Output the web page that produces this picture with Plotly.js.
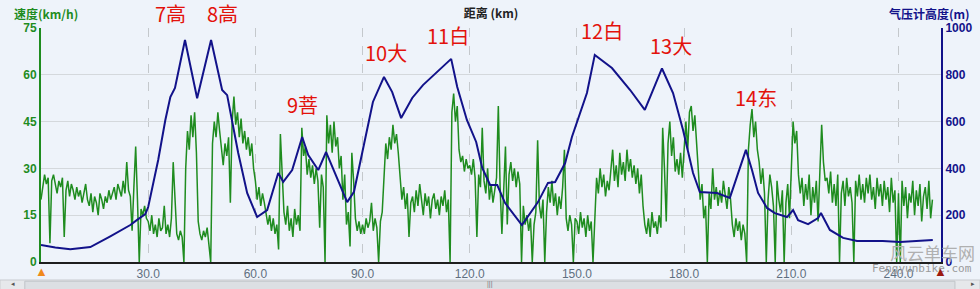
<!DOCTYPE html>
<html><head><meta charset="utf-8">
<script src="https://cdn.plot.ly/plotly-3.0.1.min.js"></script>
<style>html,body{margin:0;padding:0;background:#eef3fa;overflow:hidden;} #chart{width:980px;height:289px;}</style>
</head><body><div id="chart"></div>
<script>
// ---- data ----
const speedStepKm = 0.5;
const speedKmh = [
  20,24,28,25,27,6,26,28,25,22,26,24,27,8,23,26,21,25,23,20,
  24,21,23,19,22,25,20,18,22,16,21,19,15,22,20,17,21,19,23,20,
  22,24,20,25,23,21,26,22,32,23,21,10,24,37,20,0,17,15,18,14,
  13,10,15,9,12,8,14,10,11,18,9,12,8,14,32,22,9,7,10,8,
  0,30,42,36,47,40,48,35,13,9,7,10,8,11,6,0,38,45,40,48,
  42,36,31,38,34,40,19,45,53,44,48,40,46,38,42,36,40,34,38,30,
  26,20,24,18,22,19,16,12,15,10,14,9,12,4,41,30,16,12,18,10,
  14,8,17,12,15,10,43,34,37,28,33,27,31,25,30,26,11,28,24,0,
  47,38,44,35,45,37,40,30,34,20,28,12,16,5,35,26,14,10,13,9,
  12,9,14,11,13,19,10,14,11,0,13,16,28,38,33,40,36,44,38,41,
  35,28,20,24,17,22,8,19,21,16,23,18,25,20,15,22,18,21,14,20,
  22,17,20,15,21,18,23,16,20,0,48,54,45,50,36,32,34,29,33,30,
  31,28,33,27,8,28,24,43,26,22,30,20,25,19,23,27,50,24,9,22,
  37,12,28,32,26,30,24,29,25,0,18,12,15,10,14,0,12,16,39,18,
  14,20,0,16,24,19,26,18,22,15,21,17,24,36,14,10,15,12,0,14,
  13,9,16,11,14,8,15,10,13,0,12,27,22,30,24,28,21,26,23,29,
  36,26,31,24,35,28,32,26,36,29,33,27,31,25,30,22,28,18,12,9,
  14,8,16,11,13,9,15,11,43,30,13,38,45,34,40,29,33,28,35,27,
  38,45,36,48,50,42,47,37,28,20,25,14,18,0,22,17,30,20,24,18,
  23,19,26,21,17,24,20,12,8,14,10,13,7,12,9,0,36,44,49,40,
  45,36,32,25,30,22,0,20,28,24,18,0,26,20,16,23,0,19,25,14,
  30,45,38,42,28,22,27,18,25,20,28,15,24,19,26,13,29,44,32,26,
  27,22,29,19,25,18,28,0,22,26,18,27,21,24,19,0,26,21,28,20,
  25,19,27,22,28,20,24,17,27,21,25,18,26,20,24,16,27,19,23,0,
  22,0,26,18,24,14,22,19,26,15,23,18,25,13,21,24,17,26,14,20
];
const altitudeKm = [0,4,8.2,13.8,19.4,25.0,26.9,29.2,30.0,32.8,34.8,36.2,37.5,40.3,43.7,47.6,50.7,52.1,55.2,57.7,
  60.5,63.3,66.4,67.8,70.3,73.1,74.8,77.6,79.8,81.5,85.7,87.6,90.2,92.9,96.0,98.3,100.8,103.9,106.9,110.9,
  114.8,116.5,119.2,121.8,123.5,125.7,127.7,129.9,134.6,139.1,141.9,143.9,146.7,148.6,150.3,152.8,155.0,159.8,164.9,169.0,
  173.8,176.9,179.7,182.5,184.4,189.2,192.8,195.1,197.3,199.0,200.7,203.2,205.4,208.8,210.5,211.9,214.7,217.5,218.3,220.8,
  224.5,228.4,235.6,240.4,245.2,249.6];
const altitudeM = [73,62,55,64,110,158,180,205,235,436,607,705,744,949,700,949,735,713,466,295,
  192,222,380,342,393,534,457,393,470,406,256,300,491,684,791,726,615,701,756,812,
  868,748,607,513,402,329,329,252,158,256,338,342,423,534,607,722,885,829,735,650,
  827,722,564,380,299,295,274,380,479,393,295,231,209,192,222,179,162,188,209,137,
  103,90,90,85,90,94];
const distanceTicks = [30,60,90,120,150,180,210,240];
const distanceTickLabels = ['30.0','60.0','90.0','120.0','150.0','180.0','210.0','240.0'];
const speedTicks = [0,15,30,45,60,75];
const altitudeTicks = [0,200,400,600,800,1000];
const peakLabels = ['7高','8高','9菩','10大','11白','12白','13大','14东'];
const peakLabelKm = [36.2,50.7,73.1,96.6,113.9,157.0,176.3,200.1];
const peakLabelY = [1.06,1.06,0.675,0.897,0.966,0.991,0.927,0.701];

// ---- build ----
const speedKm = speedKmh.map((_, i) => i * speedStepKm);
const GREEN = '#1f8c1f', NAVY = '#12128a';
const traces = [
  {x: speedKm, y: speedKmh, type: 'scatter', mode: 'lines', yaxis: 'y',
   line: {color: GREEN, width: 1.5}, hoverinfo: 'skip'},
  {x: altitudeKm, y: altitudeM, type: 'scatter', mode: 'lines', yaxis: 'y2',
   line: {color: NAVY, width: 2}, hoverinfo: 'skip'}
];
const tickFont = (c) => ({family: 'Liberation Sans, Arial, sans-serif', size: 12, color: c, weight: 'bold'});
const annotations = peakLabels.map((t, i) => ({
  text: t, x: peakLabelKm[i], y: peakLabelY[i], xref: 'x', yref: 'paper',
  showarrow: false, xanchor: 'center', yanchor: 'middle',
  font: {family: 'Noto Sans CJK SC, sans-serif', size: 20, color: '#e3120b'}
}));
annotations.push(
  {text: '速度(km/h)', xref: 'paper', yref: 'paper', x: -0.032, y: 1.064, xanchor: 'left', yanchor: 'middle', showarrow: false,
   font: {family: 'Noto Sans CJK SC, sans-serif', size: 12, color: GREEN, weight: 'bold'}},
  {text: '气压计高度(m)', xref: 'paper', yref: 'paper', x: 1.0344, y: 1.064, xanchor: 'right', yanchor: 'middle', showarrow: false,
   font: {family: 'Noto Sans CJK SC, sans-serif', size: 12, color: NAVY, weight: 'bold'}},
  {text: '风云单车网', xref: 'paper', yref: 'paper', x: 0.99, y: 0.04, xanchor: 'center', yanchor: 'middle', showarrow: false,
   font: {family: 'Noto Sans CJK SC, sans-serif', size: 17, color: '#b0b0b0'}},
  {text: 'Fengyunbike.com', xref: 'paper', yref: 'paper', x: 0.979, y: -0.026, xanchor: 'center', yanchor: 'middle', showarrow: false,
   font: {family: 'DejaVu Sans Mono, monospace', size: 11, color: '#9a9a9a'}},
  {text: '▲', xref: 'x', yref: 'paper', x: 0, y: -0.04, xanchor: 'center', yanchor: 'middle', showarrow: false,
   font: {size: 13, color: '#f08a1c'}},
  {text: '▲', xref: 'paper', yref: 'paper', x: 0.9994, y: -0.04, xanchor: 'center', yanchor: 'middle', showarrow: false,
   font: {size: 13, color: '#9c1a10'}},
  {text: '◂', xref: 'paper', yref: 'paper', x: -0.031, y: -0.092, xanchor: 'center', yanchor: 'middle', showarrow: false,
   font: {size: 7, color: '#555'}},
  {text: '▸', xref: 'paper', yref: 'paper', x: 1.0355, y: -0.092, xanchor: 'center', yanchor: 'middle', showarrow: false,
   font: {size: 7, color: '#555'}},
  {text: '|||', xref: 'paper', yref: 'paper', x: 0.4987, y: -0.094, xanchor: 'center', yanchor: 'middle', showarrow: false,
   font: {family: 'Liberation Sans', size: 7, color: '#777'}}
);
const shapes = [
  {type: 'rect', xref: 'paper', yref: 'paper', x0: -0.0456, x1: 1.0433, y0: -0.0769, y1: -0.12,
   fillcolor: '#e6e8eb', line: {color: '#c9ccd0', width: 1}, layer: 'below'},
  {type: 'rect', xref: 'paper', yref: 'paper', x0: -0.018, x1: 1.0155, y0: -0.082, y1: -0.12,
   fillcolor: '#dcdfe3', line: {color: '#c0c4c8', width: 1}, layer: 'below'}
];
const layout = {
  width: 980, height: 289,
  margin: {l: 41, r: 39, t: 28, b: 27, pad: 0},
  paper_bgcolor: '#eef3fa', plot_bgcolor: '#eef3fa',
  showlegend: false,
  title: {text: '距离 (km)', x: 0.5, xref: 'paper', y: 0.952, yref: 'container', yanchor: 'middle',
          font: {family: 'Noto Sans CJK SC, sans-serif', size: 12, color: '#222', weight: 'bold'}},
  xaxis: {range: [0, 251.9], tickvals: distanceTicks, ticktext: distanceTickLabels,
          showgrid: true, gridcolor: '#c4c8cc', griddash: 'dash', gridwidth: 1,
          showline: true, linecolor: '#1e1e1e', linewidth: 2, ticks: '', zeroline: false,
          tickfont: {family: 'Liberation Sans, Arial, sans-serif', size: 12, color: '#5f6f7f'}, fixedrange: true},
  yaxis: {range: [0, 75], tickvals: speedTicks, showgrid: true, gridcolor: '#d4d8dc', gridwidth: 1,
          showline: true, linecolor: GREEN, linewidth: 2, ticks: '', zeroline: false,
          tickfont: tickFont(GREEN), fixedrange: true},
  yaxis2: {range: [0, 1000], tickvals: altitudeTicks, overlaying: 'y', side: 'right', showgrid: false,
           showline: true, linecolor: NAVY, linewidth: 2, ticks: '', zeroline: false,
           tickfont: tickFont(NAVY), fixedrange: true},
  annotations: annotations,
  shapes: shapes
};
Plotly.newPlot('chart', traces, layout, {staticPlot: true, displayModeBar: false});
</script></body></html>
